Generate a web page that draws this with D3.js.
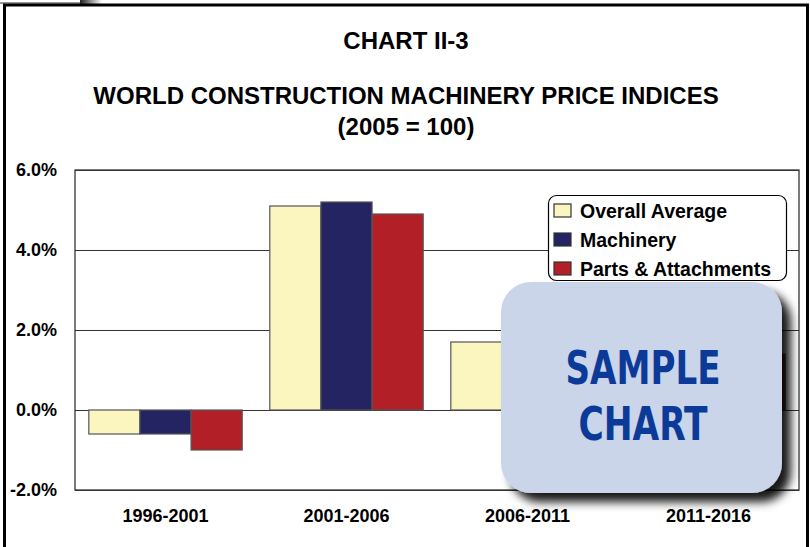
<!DOCTYPE html>
<html lang="en">
<head>
<meta charset="utf-8">
<title>Chart II-3</title>
<script src="https://d3js.org/d3.v7.min.js"></script>
<style>
  body { margin: 0; background: #fff; }
  text { font-family: "Liberation Sans", Arial, sans-serif; font-weight: bold; fill: #000; }
  .stamp { font-family: "DejaVu Sans", sans-serif; font-stretch: condensed; fill: #0b3a98; }
</style>
</head>
<body>
<div id="main"></div>
<script>
var periods = ["1996-2001", "2001-2006", "2006-2011", "2011-2016"];
var seriesNames = ["Overall Average", "Machinery", "Parts & Attachments"];
var overall = [-0.6, 5.1, 1.7, 1.6];
var machinery = [-0.6, 5.2, 1.8, 1.7];
var parts = [-1.0, 4.9, 1.5, 1.4];
var yTicks = [-2, 0, 2, 4, 6];
var colors = ["#fbf6c0", "#252462", "#b31f26"];

var width = 810, height = 547;
var plot = {left: 75, right: 799, top: 170, bottom: 490};

var svg = d3.select("#main").append("svg")
    .attr("width", width)
    .attr("height", height);

var defs = svg.append("defs");
var shadow = defs.append("filter").attr("id", "shadow")
    .attr("x", "-20%").attr("y", "-20%").attr("width", "150%").attr("height", "150%");
shadow.append("feDropShadow")
    .attr("dx", 9).attr("dy", 9).attr("stdDeviation", 5)
    .attr("flood-color", "#000").attr("flood-opacity", 0.9);
var grad = defs.append("linearGradient").attr("id", "topbar");
grad.append("stop").attr("offset", "0%").attr("stop-color", "#222");
grad.append("stop").attr("offset", "100%").attr("stop-color", "#fff");

// bits of the page behind the chart
svg.append("line").attr("x1", 0).attr("x2", 80).attr("y1", 3).attr("y2", 3)
    .attr("stroke", "#333").attr("stroke-width", 1);
svg.append("rect").attr("x", 80).attr("y", 0).attr("width", 22).attr("height", 4)
    .attr("fill", "url(#topbar)");

// outer frame
svg.append("rect")
    .attr("x", 4.5).attr("y", 5)
    .attr("width", 803).attr("height", 560)
    .attr("fill", "#fff")
    .attr("stroke", "#000").attr("stroke-width", 3);

// titles
svg.append("text").attr("x", 406).attr("y", 49).attr("text-anchor", "middle")
    .style("font-size", "24px").text("CHART II-3");
svg.append("text").attr("x", 406).attr("y", 104).attr("text-anchor", "middle")
    .style("font-size", "24px").text("WORLD CONSTRUCTION MACHINERY PRICE INDICES");
svg.append("text").attr("x", 406).attr("y", 135).attr("text-anchor", "middle")
    .style("font-size", "24px").text("(2005 = 100)");

var y = d3.scaleLinear().domain([-2, 6]).range([plot.bottom, plot.top]);
var x0 = d3.scaleBand().domain(periods).range([plot.left, plot.right]).padding(0);
var x1 = d3.scaleBand().domain(seriesNames).range([0, x0.bandwidth()])
    .paddingInner(0).paddingOuter(0.27);

// plot frame and grid
svg.append("rect")
    .attr("x", plot.left).attr("y", plot.top)
    .attr("width", plot.right - plot.left).attr("height", plot.bottom - plot.top)
    .attr("fill", "#fff").attr("stroke", "#222").attr("stroke-width", 1.2);
svg.append("g").selectAll("line")
    .data(yTicks)
    .enter().append("line")
    .attr("x1", plot.left).attr("x2", plot.right)
    .attr("y1", function(d) { return Math.round(y(d)) + 0.5; })
    .attr("y2", function(d) { return Math.round(y(d)) + 0.5; })
    .attr("stroke", "#333").attr("stroke-width", 1);

// y axis labels (plain hyphen for the minus, as in the original)
var yAxis = svg.append("g")
    .attr("transform", "translate(" + plot.left + ",0)")
    .call(d3.axisLeft(y).tickValues(yTicks).tickSize(0).tickPadding(18)
        .tickFormat(function(d) { return d.toFixed(1) + "%"; }));
yAxis.select(".domain").remove();
yAxis.selectAll("text").style("font-size", "18px")
    .style("font-family", "'Liberation Sans', Arial, sans-serif").attr("fill", "#000");

// x axis labels
var xAxis = svg.append("g")
    .attr("transform", "translate(0," + plot.bottom + ")")
    .call(d3.axisBottom(x0).tickSize(0).tickPadding(19));
xAxis.select(".domain").remove();
xAxis.selectAll("text").style("font-size", "18px")
    .style("font-family", "'Liberation Sans', Arial, sans-serif").attr("fill", "#000");

// bars
var rows = periods.map(function(p, i) {
    return {period: p, values: [overall[i], machinery[i], parts[i]]};
});
var groups = svg.append("g").selectAll("g")
    .data(rows)
    .enter().append("g")
    .attr("transform", function(d) { return "translate(" + x0(d.period) + ",0)"; });
groups.selectAll("rect")
    .data(function(d) { return d.values.map(function(v, j) { return {name: seriesNames[j], value: v, j: j}; }); })
    .enter().append("rect")
    .attr("x", function(d) { return x1(d.name); })
    .attr("width", x1.bandwidth())
    .attr("y", function(d) { return y(Math.max(0, d.value)); })
    .attr("height", function(d) { return Math.abs(y(d.value) - y(0)); })
    .attr("fill", function(d) { return colors[d.j]; })
    .attr("stroke", "#555").attr("stroke-width", 1.2);

// legend
var legend = svg.append("g").attr("transform", "translate(548,195)");
legend.append("rect")
    .attr("x", 0.5).attr("y", 0.5).attr("width", 238).attr("height", 85)
    .attr("rx", 8).attr("fill", "#fff").attr("stroke", "#000").attr("stroke-width", 1.2);
var items = legend.selectAll("g.item")
    .data(seriesNames)
    .enter().append("g").attr("class", "item")
    .attr("transform", function(d, i) { return "translate(6," + (16 + i * 29) + ")"; });
items.append("rect")
    .attr("x", 0).attr("y", -7).attr("width", 17).attr("height", 13)
    .attr("fill", function(d, i) { return colors[i]; })
    .attr("stroke", "#333").attr("stroke-width", 1.2);
items.append("text")
    .attr("x", 26).attr("y", 7)
    .style("font-size", "19.5px")
    .text(function(d) { return d; });

// sample stamp
var stamp = svg.append("g");
stamp.append("rect")
    .attr("x", 501).attr("y", 282).attr("width", 281).attr("height", 211)
    .attr("rx", 30).attr("fill", "#cad5e9")
    .attr("filter", "url(#shadow)");
stamp.append("text").attr("class", "stamp")
    .attr("x", 643).attr("y", 384).attr("text-anchor", "middle")
    .attr("textLength", 155).attr("lengthAdjust", "spacingAndGlyphs")
    .style("font-size", "46px").text("SAMPLE");
stamp.append("text").attr("class", "stamp")
    .attr("x", 643).attr("y", 440).attr("text-anchor", "middle")
    .attr("textLength", 129).attr("lengthAdjust", "spacingAndGlyphs")
    .style("font-size", "46px").text("CHART");
</script>
</body>
</html>
